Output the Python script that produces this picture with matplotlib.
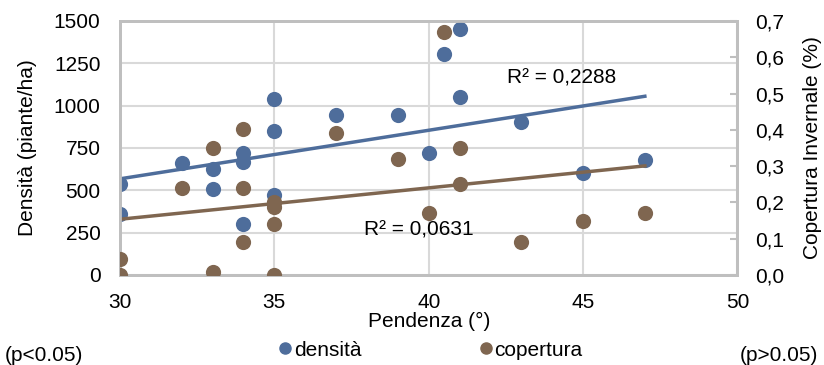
import numpy as np
import matplotlib
matplotlib.use("Agg")
import matplotlib.pyplot as plt
from matplotlib.lines import Line2D

plt.rcParams['font.family'] = ['Liberation Sans', 'DejaVu Sans']

# pendenza (deg) and densita (piante/ha)
pend_dens = [30, 30, 32, 33, 33, 34, 34, 34, 35, 35, 35, 37, 39, 40.5, 41, 41, 40, 43, 45, 47]
densita = [535, 358, 660, 624, 508, 719, 669, 301, 1037, 850, 472, 943, 943, 1303, 1451, 1053, 719, 902, 604, 679]

# pendenza (deg) and copertura invernale (%)
pend_cop = [30, 30, 32, 33, 33, 34, 34, 34, 35, 35, 35, 35, 37, 39, 40.5, 41, 41, 40, 43, 45, 47]
copertura = [0.043, 0.0, 0.239, 0.349, 0.009, 0.401, 0.239, 0.090, 0.202, 0.188, 0.141, 0.0,
             0.390, 0.320, 0.671, 0.351, 0.250, 0.172, 0.090, 0.150, 0.172]

blue = '#4e6d9b'
brown = '#7f6650'
grid_c = '#d9d9d9'
frame_c = '#bfbfbf'
fs = 15

fig = plt.figure(figsize=(8.24, 3.65), dpi=100)
ax = fig.add_axes([0.1456, 0.2466, 0.7494, 0.6959])
ax2 = ax.twinx()

ax.scatter(pend_dens, densita, s=120, color=blue, zorder=3, linewidths=0)
ax2.scatter(pend_cop, copertura, s=120, color=brown, zorder=3, linewidths=0)

# linear trend lines
xd = np.array(pend_dens)
k, q = np.polyfit(xd, densita, 1)
xs = np.array([min(pend_dens), max(pend_dens)])
ax.plot(xs, k * xs + q, color=blue, lw=2.5, zorder=2)
k2, q2 = np.polyfit(pend_cop, copertura, 1)
ax2.plot(xs, k2 * xs + q2, color=brown, lw=2.5, zorder=2)

ax.set_xlim(30, 50)
ax.set_ylim(0, 1500)
ax2.set_ylim(0, 0.7)
ax.set_xticks([30, 35, 40, 45, 50])
ax.set_yticks([0, 250, 500, 750, 1000, 1250, 1500])
ax2.set_yticks(np.arange(0, 0.71, 0.1))
ax2.set_yticklabels([('%.1f' % v).replace('.', ',') for v in np.arange(0, 0.71, 0.1)])

ax.grid(True, color=grid_c, lw=1.5)
ax.set_axisbelow(True)
for a in (ax, ax2):
    for s in a.spines.values():
        s.set_color(frame_c)
        s.set_linewidth(2)
ax.tick_params(axis='y', length=0, labelsize=fs, pad=14)
ax.tick_params(axis='x', length=0, labelsize=fs, pad=13)
ax2.tick_params(axis='y', direction='in', length=5, width=1.5, color=frame_c, labelsize=fs, pad=13)

ax.set_xlabel('Pendenza (°)', fontsize=fs, labelpad=0)
ax.set_ylabel('Densità (piante/ha)', fontsize=fs, labelpad=12)
ax2.set_ylabel('Copertura Invernale (%)', fontsize=fs, labelpad=13)

ax.text(42.55, 1163, 'R² = 0,2288', fontsize=fs, va='center')
ax.text(37.9, 266, 'R² = 0,0631', fontsize=fs, va='center')

handles = [Line2D([], [], ls='', marker='o', color=blue, markersize=8),
           Line2D([], [], ls='', marker='o', color=brown, markersize=8)]
fig.legend(handles, ['densità', 'copertura'], loc='center', bbox_to_anchor=(0.523, 1 - 350 / 365),
           ncol=2, frameon=False, fontsize=fs, handlelength=0.6, handletextpad=0.1,
           columnspacing=5.7)

fig.text(0.006, 1 - 346 / 365, '(p<0.05)', fontsize=fs, va='top')
fig.text(0.993, 1 - 346 / 365, '(p>0.05)', fontsize=fs, va='top', ha='right')

fig.savefig('out.png', dpi=100)
